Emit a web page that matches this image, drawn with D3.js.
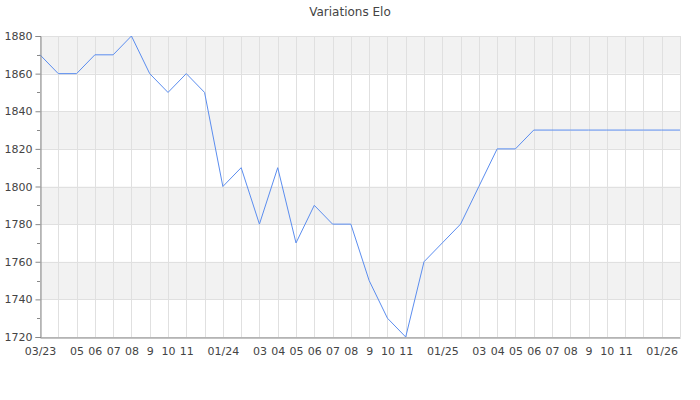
<!DOCTYPE html>
<html><head><meta charset="utf-8">
<script src="https://cdn.jsdelivr.net/npm/d3@7"></script>
<style>body{margin:0;background:#fff;}svg{display:block;font-family:"DejaVu Sans",sans-serif;}</style>
</head><body>
<svg id="c" width="700" height="400"></svg>
<script>
const months = ["2023-03","2023-04","2023-05","2023-06","2023-07","2023-08","2023-09","2023-10","2023-11","2023-12",
"2024-01","2024-02","2024-03","2024-04","2024-05","2024-06","2024-07","2024-08","2024-09","2024-10","2024-11","2024-12",
"2025-01","2025-02","2025-03","2025-04","2025-05","2025-06","2025-07","2025-08","2025-09","2025-10","2025-11","2025-12",
"2026-01","2026-02"];
const tickLabels = ["03/23","","05","06","07","08","9","10","11","",
"01/24","","03","04","05","06","07","08","9","10","11","",
"01/25","","03","04","05","06","07","08","9","10","11","",
"01/26",""];
const elo = [1870,1860,1860,1870,1870,1880,1860,1850,1860,1850,
1800,1810,1780,1810,1770,1790,1780,1780,1750,1730,1720,1760,
1770,1780,1800,1820,1820,1830,1830,1830,1830,1830,1830,1830,
1830,1830];
const yTicks = [1720,1740,1760,1780,1800,1820,1840,1860,1880];
const title = "Variations Elo";

const svg = d3.select("#c");
const m = {l:40, r:20, t:36, b:63};
const W = 700, H = 400;
const x = d3.scalePoint().domain(months).range([m.l, W - m.r]);
const y = d3.scaleLinear().domain([1720,1880]).range([H - m.b, m.t]);

// bands
const g = svg.append("g");
for (let i = 0; i < yTicks.length - 1; i++) {
  const lo = yTicks[i], hi = yTicks[i+1];
  const shade = (i % 2 === 1);
  if (shade) g.append("rect").attr("x", m.l).attr("width", W - m.r - m.l)
    .attr("y", y(hi)).attr("height", y(lo) - y(hi)).attr("fill", "#f2f2f2");
}
// horizontal grid
g.selectAll("line.h").data(yTicks).join("line")
  .attr("x1", m.l).attr("x2", W - m.r)
  .attr("y1", d => Math.round(y(d)) + 0.5).attr("y2", d => Math.round(y(d)) + 0.5)
  .attr("stroke", "#e0e0e0");
// vertical grid
g.selectAll("line.v").data(months).join("line")
  .attr("x1", d => Math.round(x(d)) + 0.5).attr("x2", d => Math.round(x(d)) + 0.5)
  .attr("y1", m.t).attr("y2", H - m.b)
  .attr("stroke", "#e0e0e0");

// line
svg.append("path").datum(elo)
  .attr("fill", "none").attr("stroke", "#5b8def").attr("stroke-width", 1)
  .attr("d", d3.line().x((d,i) => x(months[i])).y(d => y(d)));

// y axis
const ya = svg.append("g").attr("transform", `translate(${m.l + 0.5},0)`)
  .call(d3.axisLeft(y).tickValues(yTicks).tickFormat(d3.format("d")).tickSize(5).tickPadding(3));
ya.selectAll(".tick line").attr("stroke", "#888");
ya.select(".domain").attr("stroke", "#888");
ya.selectAll("text").attr("fill", "#444").attr("font-size", 11).attr("font-family", "DejaVu Sans");
// minor y ticks
const minor = d3.range(1730, 1880, 20);
svg.append("g").selectAll("line").data(minor).join("line")
  .attr("x1", m.l - 3).attr("x2", m.l)
  .attr("y1", d => Math.round(y(d)) + 0.5).attr("y2", d => Math.round(y(d)) + 0.5)
  .attr("stroke", "#888");

// x axis
const xa = svg.append("g").attr("transform", `translate(0,${Math.round(H - m.b) + 0.5})`)
  .call(d3.axisBottom(x).tickFormat((d,i) => tickLabels[i]).tickSize(0).tickPadding(10));
xa.select(".domain").attr("stroke", "#888");
xa.selectAll("text").attr("fill", "#444").attr("font-size", 11).attr("font-family", "DejaVu Sans");

svg.append("text").attr("x", 350).attr("y", 16).attr("text-anchor", "middle")
  .attr("font-size", 12).attr("fill", "#444").text(title);
</script>
</body></html>
